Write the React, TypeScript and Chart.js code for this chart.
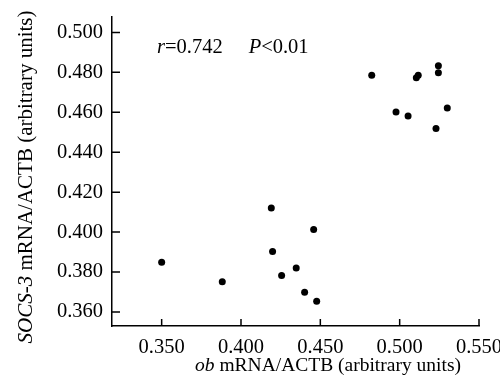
import React, { useEffect, useRef } from "react";
import { Chart, registerables } from "chart.js";

Chart.register(...registerables);

// ob mRNA/ACTB (x) and SOCS-3 mRNA/ACTB (y), one entry per sample
const obValues = [
  0.4824, 0.4977, 0.5053, 0.5105, 0.5117, 0.5244, 0.5244, 0.5229, 0.53,
  0.35, 0.3882, 0.4191, 0.4458, 0.4199, 0.4348, 0.4256, 0.4401, 0.4477,
];
const socsValues = [
  0.4785, 0.4602, 0.4581, 0.4773, 0.4785, 0.4833, 0.4798, 0.4519, 0.4622,
  0.3849, 0.3751, 0.4121, 0.4013, 0.3903, 0.3821, 0.3783, 0.3699, 0.3654,
];
const xTickValues = [0.35, 0.4, 0.45, 0.5, 0.55];
const yTickValues = [0.36, 0.38, 0.4, 0.42, 0.44, 0.46, 0.48, 0.5];
const xRange = [0.3187, 0.55];
const yRange = [0.353, 0.5077];

type Seg = { text: string; italic?: boolean; gap?: number };
const xTitle: Seg[] = [{ text: "ob", italic: true }, { text: " mRNA/ACTB (arbitrary units)" }];
const yTitle: Seg[] = [{ text: "SOCS-3", italic: true }, { text: " mRNA/ACTB (arbitrary units)" }];
const annotation: Seg[] = [
  { text: "r", italic: true },
  { text: "=0.742" },
  { text: "P", italic: true, gap: 26 },
  { text: "<0.01" },
];

const FAMILY = '"Liberation Serif", "Times New Roman", serif';

function fontStr(size: number, italic?: boolean) {
  return `${italic ? "italic " : ""}${size}px ${FAMILY}`;
}

function segWidth(ctx: CanvasRenderingContext2D, segs: Seg[], size: number) {
  let w = 0;
  for (const s of segs) {
    ctx.font = fontStr(size, s.italic);
    w += (s.gap || 0) + ctx.measureText(s.text).width;
  }
  return w;
}

function drawSegs(ctx: CanvasRenderingContext2D, segs: Seg[], size: number, x: number, y: number) {
  let cx = x;
  for (const s of segs) {
    cx += s.gap || 0;
    ctx.font = fontStr(size, s.italic);
    ctx.fillText(s.text, cx, y);
    cx += ctx.measureText(s.text).width;
  }
}

const decorPlugin = {
  id: "decor",
  afterDraw(chart: any) {
    const ctx: CanvasRenderingContext2D = chart.ctx;
    const { left, bottom } = chart.chartArea;
    const xs = chart.scales.x;
    const ys = chart.scales.y;
    ctx.save();
    // inward tick marks
    ctx.strokeStyle = "#000";
    ctx.lineWidth = 1.5;
    ctx.beginPath();
    for (const v of xTickValues) {
      const px = xs.getPixelForValue(v);
      ctx.moveTo(px, bottom);
      ctx.lineTo(px, bottom - 7);
    }
    for (const v of yTickValues) {
      const py = ys.getPixelForValue(v);
      ctx.moveTo(left, py);
      ctx.lineTo(left + 8, py);
    }
    ctx.stroke();

    ctx.fillStyle = "#000";
    ctx.textBaseline = "alphabetic";
    ctx.textAlign = "left";
    // x title
    const xSize = 19.5;
    const xw = segWidth(ctx, xTitle, xSize);
    drawSegs(ctx, xTitle, xSize, 328 - xw / 2, 371);
    // y title (rotated)
    const ySize = 21;
    const yw = segWidth(ctx, yTitle, ySize);
    ctx.save();
    ctx.translate(32, 177);
    ctx.rotate(-Math.PI / 2);
    drawSegs(ctx, yTitle, ySize, -yw / 2, 0);
    ctx.restore();
    // annotation
    drawSegs(ctx, annotation, 20.5, 157, 53);
    ctx.restore();
  },
};

export default function App() {
  const ref = useRef<HTMLCanvasElement | null>(null);
  useEffect(() => {
    if (!ref.current) return;
    const chart = new Chart(ref.current, {
      type: "scatter",
      data: {
        datasets: [
          {
            data: obValues.map((x, i) => ({ x, y: socsValues[i] })),
            backgroundColor: "#000",
            borderColor: "#000",
            pointRadius: 3.5,
            pointBorderWidth: 0,
          },
        ],
      },
      options: {
        responsive: false,
        animation: false,
        devicePixelRatio: 1,
        layout: { padding: { left: 0, right: 21, top: 17, bottom: 0 } },
        plugins: { legend: { display: false }, tooltip: { enabled: false } },
        scales: {
          x: {
            type: "linear",
            min: xRange[0],
            max: xRange[1],
            afterBuildTicks: (s: any) => {
              s.ticks = xTickValues.map((v) => ({ value: v }));
            },
            afterFit: (s: any) => {
              s.height = 64;
              s.paddingLeft = 0;
              s.paddingRight = 0;
            },
            grid: { display: false, drawTicks: false },
            border: { display: true, color: "#000", width: 1.5 },
            ticks: {
              color: "#000",
              padding: 9,
              maxRotation: 0,
              autoSkip: false,
              font: { family: FAMILY, size: 20.5 },
              callback: (v: any) => Number(v).toFixed(3),
            },
          },
          y: {
            type: "linear",
            min: yRange[0],
            max: yRange[1],
            afterBuildTicks: (s: any) => {
              s.ticks = yTickValues.map((v) => ({ value: v }));
            },
            afterFit: (s: any) => {
              s.width = 112;
              s.paddingTop = 0;
              s.paddingBottom = 0;
            },
            grid: { display: false, drawTicks: false },
            border: { display: true, color: "#000", width: 1.5 },
            ticks: {
              color: "#000",
              padding: 9,
              autoSkip: false,
              font: { family: FAMILY, size: 20.5 },
              callback: (v: any) => Number(v).toFixed(3),
            },
          },
        },
      },
      plugins: [decorPlugin],
    });
    return () => chart.destroy();
  }, []);
  return (
    <div style={{ position: "fixed", left: 0, top: 0, width: 500, height: 390, background: "#fff" }}>
      <canvas ref={ref} width={500} height={390} style={{ display: "block" }} />
    </div>
  );
}
